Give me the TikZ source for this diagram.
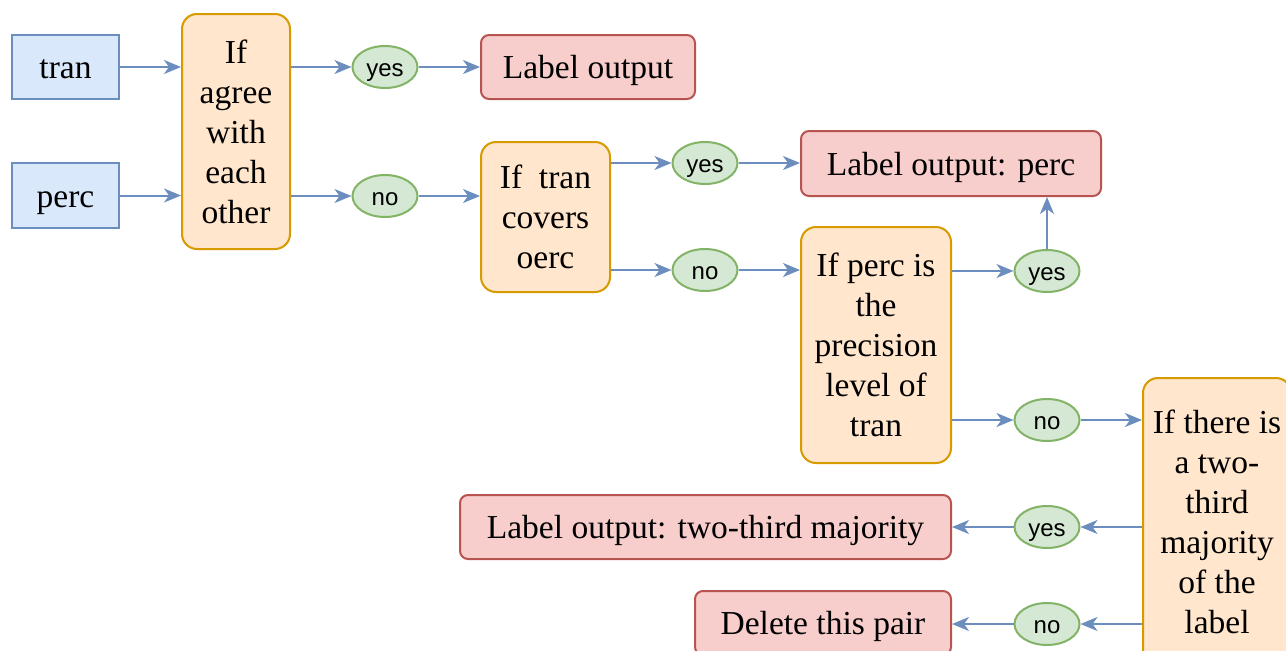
\documentclass[tikz,border=0pt]{standalone}
\usepackage{fontspec}
\setmainfont{Liberation Serif}
\newfontfamily\labsans{Liberation Sans}
\usetikzlibrary{arrows.meta,shapes.geometric}
\definecolor{bluefill}{HTML}{DAE8FC}
\definecolor{bluedraw}{HTML}{6C8EBF}
\definecolor{orfill}{HTML}{FFE6CC}
\definecolor{ordraw}{HTML}{D79B00}
\definecolor{redfill}{HTML}{F8CECC}
\definecolor{reddraw}{HTML}{B85450}
\definecolor{grfill}{HTML}{D5E8D4}
\definecolor{grdraw}{HTML}{82B366}
\tikzset{
  txt/.style={font=\fontsize{33.5}{40}\selectfont, align=center, inner sep=0pt},
  oneline/.style={text height=23pt, text depth=0pt},
  inbox/.style={txt, oneline, draw=bluedraw, fill=bluefill, line width=2pt},
  decbox/.style={txt, draw=ordraw, fill=orfill, line width=2pt, rounded corners=15pt},
  outbox/.style={txt, oneline, draw=reddraw, fill=redfill, line width=2pt, rounded corners=8pt},
  ans/.style={ellipse, draw=grdraw, fill=grfill, line width=2pt, minimum width=65pt, minimum height=42pt, inner sep=0pt, text height=18pt, text depth=0pt, font=\labsans\fontsize{24}{28}\selectfont},
  arr/.style={draw=bluedraw, line width=2pt, -{Stealth[length=17pt,width=14pt,inset=5pt]}}
}
\begin{document}
\begin{tikzpicture}[x=1pt,y=-1pt]
\useasboundingbox (0,0) rectangle (1286,651);
\node[inbox, minimum width=107pt, minimum height=64pt] (tran) at (65.5,67) {tran};
\node[inbox, minimum width=107pt, minimum height=65pt] (perc) at (65.5,195.5) {perc};
\node[decbox, minimum width=108pt, minimum height=235pt] (agree) at (236,131.5) {If\\agree\\with\\each\\other};
\node[ans] (yes1) at (385,67) {yes};
\node[ans] (no1) at (385,196) {no};
\node[outbox, minimum width=214pt, minimum height=64pt] (lab1) at (588,67) {Label output};
\node[decbox, minimum width=129pt, minimum height=150pt] (covers) at (545.5,217) {If\enspace tran\\covers\\oerc};
\node[ans] (yes2) at (705,163) {yes};
\node[ans] (no2) at (705,270) {no};
\node[outbox, minimum width=300pt, minimum height=65pt] (labperc) at (951,163.5) {Label output: perc};
\node[decbox, minimum width=150pt, minimum height=236pt] (prec) at (876,345) {If perc is\\the\\precision\\level of\\tran};
\node[ans] (yes3) at (1047,271) {yes};
\node[ans] (no3) at (1047,420) {no};
\node[decbox, minimum width=148pt, minimum height=288pt] (twothird) at (1217,522) {If there is\\a two-\\third\\majority\\of the\\label};
\node[ans] (yes4) at (1047,527) {yes};
\node[ans] (no4) at (1047,624) {no};
\node[outbox, minimum width=491pt, minimum height=64pt] (labtwo) at (705.5,527) {Label output: two-third majority};
\node[outbox, minimum width=256pt, minimum height=64pt] (del) at (823,623) {Delete this pair};

\draw[arr] (tran.east) -- (agree.west |- tran.east);
\draw[arr] (perc.east) -- (agree.west |- perc.east);
\draw[arr] (agree.east |- yes1) -- (yes1);
\draw[arr] (yes1) -- (lab1);
\draw[arr] (agree.east |- no1) -- (no1);
\draw[arr] (no1) -- (covers.west |- no1);
\draw[arr] (covers.east |- yes2) -- (yes2);
\draw[arr] (yes2) -- (labperc.west |- yes2);
\draw[arr] (covers.east |- no2) -- (no2);
\draw[arr] (no2) -- (prec.west |- no2);
\draw[arr] (prec.east |- yes3) -- (yes3);
\draw[arr] (yes3) -- (labperc.south -| yes3);
\draw[arr] (prec.east |- no3) -- (no3);
\draw[arr] (no3) -- (twothird.west |- no3);
\draw[arr] (twothird.west |- yes4) -- (yes4);
\draw[arr] (yes4) -- (labtwo.east |- yes4);
\draw[arr] (twothird.west |- no4) -- (no4);
\draw[arr] (no4) -- (del.east |- no4);
\end{tikzpicture}
\end{document}
